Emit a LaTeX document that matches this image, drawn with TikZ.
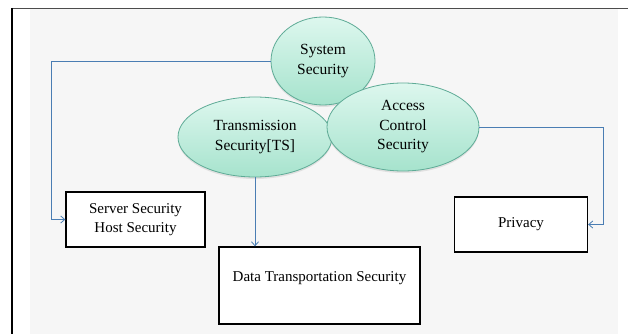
\documentclass[tikz,border=0pt]{standalone}
\usepackage{fontspec}
\setmainfont{Liberation Serif}
\usetikzlibrary{shapes.geometric,arrows.meta,shadows}
\definecolor{pagebg}{HTML}{F6F6F6}
\definecolor{bubbletop}{HTML}{DDF7EE}
\definecolor{bubblebot}{HTML}{A6E3CD}
\definecolor{bubbleedge}{HTML}{5EAB96}
\definecolor{linkblue}{HTML}{4A7DB3}
\tikzset{
  bubble/.style={ellipse, draw=bubbleedge, line width=0.8pt,
    top color=bubbletop, bottom color=bubblebot, inner sep=0pt,
    align=center, font=\fontsize{15.5}{19.5}\selectfont,
    drop shadow={shadow xshift=0pt, shadow yshift=-2pt, opacity=0.18}},
  plainbox/.style={rectangle, draw=black, line width=1.3pt, fill=white,
    inner sep=0pt, align=center, font=\fontsize{15}{19}\selectfont},
  link/.style={draw=linkblue, line width=0.8pt,
    -{Straight Barb[length=4pt,width=7pt]}}
}
\begin{document}
\begin{tikzpicture}[x=1pt,y=-1pt]
  \useasboundingbox (0,0) rectangle (628,334);
  % page background and frame
  \fill[white] (0,0) rectangle (628,334);
  \fill[pagebg] (30,9) rectangle (618,334);
  \draw[black!70, line width=1pt] (11,8.5) -- (628,8.5);
  \draw[black, line width=1.5pt] (12,8) -- (12,334);

  % security domains
  \node[bubble, minimum width=104pt, minimum height=88pt] (sys) at (323,61)
    {System\\Security};
  \node[bubble, minimum width=154pt, minimum height=80pt] (ts) at (255,137)
    {Transmission\\Security[TS]};
  \node[bubble, minimum width=152pt, minimum height=88pt] (acs) at (403,127)
    {Access\\Control\\Security};

  % targets
  \node[plainbox, minimum width=139pt, minimum height=55pt] (srv) at (135.5,219.5)
    {Server Security\\Host Security};
  \node[plainbox, minimum width=201pt, minimum height=77pt] (dts) at (319.5,285.5)
    {\raisebox{17pt}{Data Transportation Security}};
  \node[plainbox, minimum width=133pt, minimum height=55pt] (prv) at (521,224.5)
    {Privacy};

  % connectors
  \draw[link] (sys.west) -| ([xshift=-14pt]srv.west) -- (srv.west);
  \draw[link] (ts.south) -- (ts.south |- dts.north);
  \draw[link] (acs.east) -| ([xshift=15pt]prv.east) -- (prv.east);
\end{tikzpicture}
\end{document}
